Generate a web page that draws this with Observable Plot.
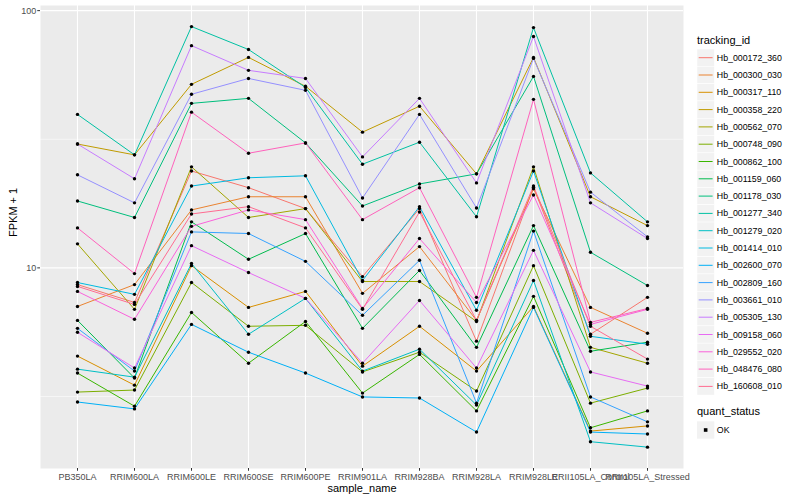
<!DOCTYPE html>
<html>
<head>
<meta charset="utf-8">
<script src="https://cdn.jsdelivr.net/npm/d3@7"></script>
<script src="https://cdn.jsdelivr.net/npm/@observablehq/plot@0.6"></script>
<style>
  html, body { margin: 0; padding: 0; background: #fff; }
  #chart { width: 800px; height: 500px; }
</style>
</head>
<body>
<div id="chart"></div>
<script>
const samples = ["PB350LA", "RRIM600LA", "RRIM600LE", "RRIM600SE", "RRIM600PE", "RRIM901LA",
  "RRIM928BA", "RRIM928LA", "RRIM928LE", "RRII105LA_Control", "RRII105LA_Stressed"];

const ids = ["Hb_000172_360", "Hb_000300_030", "Hb_000317_110", "Hb_000358_220", "Hb_000562_070",
  "Hb_000748_090", "Hb_000862_100", "Hb_001159_060", "Hb_001178_030", "Hb_001277_340",
  "Hb_001279_020", "Hb_001414_010", "Hb_002600_070", "Hb_002809_160", "Hb_003661_010",
  "Hb_005305_130", "Hb_009158_060", "Hb_029552_020", "Hb_048476_080", "Hb_160608_010"];

const colors = ["#F8766D", "#EA8331", "#D89000", "#C09B00", "#A3A500", "#7CAE00", "#39B600",
  "#00BB4E", "#00BF7D", "#00C1A3", "#00BFC4", "#00BAE0", "#00B0F6", "#35A2FF", "#9590FF",
  "#C77CFF", "#E76BF3", "#FA62DB", "#FF62BC", "#FF6C91"];

// FPKM + 1 values, one array per tracking_id, in sample order
const hb_000172_360 = [8.61, 7.34, 23.8, 20.5, 17.0, 9.25, 17.0, 5.19, 20.6, 5.52, 7.68];
const hb_000300_030 = [7.08, 8.61, 16.8, 18.9, 18.9, 7.96, 12.1, 6.25, 20.3, 7.02, 5.57];
const hb_000317_110 = [4.54, 3.50, 10.2, 7.02, 8.10, 4.15, 5.93, 3.97, 7.08, 2.32, 2.43];
const hb_000358_220 = [30.3, 27.5, 51.7, 65.8, 50.8, 33.7, 42.5, 23.2, 65.8, 18.9, 14.6];
const hb_000562_070 = [12.4, 6.90, 24.7, 15.7, 17.0, 8.85, 8.85, 6.19, 24.7, 4.91, 4.26];
const hb_000748_090 = [3.29, 3.35, 8.77, 5.93, 5.98, 3.94, 4.70, 3.32, 10.2, 2.98, 3.41];
const hb_000862_100 = [3.90, 2.90, 6.71, 4.26, 6.19, 3.26, 4.61, 2.78, 7.75, 2.39, 2.78];
const hb_001159_060 = [6.25, 3.73, 15.1, 10.8, 13.6, 5.82, 9.77, 4.91, 14.6, 4.74, 5.14];
const hb_001178_030 = [18.2, 15.7, 43.6, 45.6, 30.6, 17.4, 21.2, 23.2, 55.5, 11.5, 8.54];
const hb_001277_340 = [39.5, 27.5, 86.7, 70.6, 50.3, 25.3, 30.8, 15.8, 85.9, 23.4, 15.1];
const hb_001279_020 = [4.04, 3.76, 10.4, 5.52, 7.61, 3.97, 4.83, 2.93, 8.93, 2.11, 2.01];
const hb_001414_010 = [8.77, 7.89, 20.8, 22.4, 22.8, 8.93, 17.3, 6.84, 23.8, 5.42, 5.05];
const hb_002600_070 = [3.01, 2.83, 6.03, 4.70, 3.90, 3.15, 3.12, 2.30, 7.02, 2.30, 2.26];
const hb_002809_160 = [5.82, 3.97, 13.8, 13.6, 10.6, 6.54, 10.7, 2.98, 13.9, 3.15, 2.52];
const hb_003661_010 = [23.0, 17.9, 47.3, 54.5, 49.0, 18.7, 39.5, 17.1, 65.2, 19.7, 13.2];
const hb_005305_130 = [30.3, 22.2, 73.1, 58.6, 54.5, 27.0, 45.6, 21.4, 79.3, 17.9, 13.0];
const hb_009158_060 = [5.62, 4.08, 12.2, 9.59, 7.61, 4.26, 7.47, 4.08, 11.7, 3.94, 3.47];
const hb_029552_020 = [8.10, 6.31, 14.5, 16.8, 15.4, 6.95, 13.0, 7.34, 19.2, 6.03, 6.90];
const hb_048476_080 = [14.3, 9.50, 40.3, 27.9, 30.6, 15.4, 20.5, 7.68, 45.2, 6.14, 6.95];
const hb_160608_010 = [8.47, 7.21, 16.2, 17.3, 14.3, 6.90, 16.5, 6.25, 20.8, 5.93, 4.42];

const yMajor = [10, 100];
const yMinor = [Math.sqrt(10), Math.sqrt(1000)];
const statusLabels = ["OK"];

const seriesValues = [hb_000172_360, hb_000300_030, hb_000317_110, hb_000358_220, hb_000562_070,
  hb_000748_090, hb_000862_100, hb_001159_060, hb_001178_030, hb_001277_340, hb_001279_020,
  hb_001414_010, hb_002600_070, hb_002809_160, hb_003661_010, hb_005305_130, hb_009158_060,
  hb_029552_020, hb_048476_080, hb_160608_010];

const data = [];
ids.forEach((id, i) => seriesValues[i].forEach((v, j) => data.push({id, sample: samples[j], value: v, status: "OK"})));

const font = "'Liberation Sans', Arial, Helvetica, sans-serif";

const plot = Plot.plot({
  width: 800,
  height: 500,
  marginLeft: 40,
  marginRight: 117,
  marginTop: 5,
  marginBottom: 32,
  style: {fontFamily: font, background: "#ffffff", overflow: "visible"},
  x: {type: "point", domain: samples, padding: 0.6, axis: null},
  y: {type: "log", domain: [1.66, 104.7], axis: null},
  color: {domain: ids, range: colors},
  marks: [
    Plot.frame({fill: "#EBEBEB", stroke: "none"}),
    Plot.ruleY(yMinor, {stroke: "#ffffff", strokeWidth: 0.55}),
    Plot.ruleY(yMajor, {stroke: "#ffffff", strokeWidth: 1.1}),
    Plot.ruleX(samples, {x: d => d, stroke: "#ffffff", strokeWidth: 1.1}),
    Plot.line(data, {x: "sample", y: "value", z: "id", stroke: "id", strokeWidth: 1}),
    Plot.dot(data, {x: "sample", y: "value", fill: "#000000", stroke: "none", r: 1.7}),
    Plot.axisY(yMajor, {tickSize: 2.75, tickPadding: 1.5, stroke: "#333333", fill: "#4D4D4D",
      fontSize: 9, tickFormat: d => String(d), label: null}),
    Plot.axisX(samples, {tickSize: 2.75, tickPadding: 2, stroke: "#333333", fill: "#4D4D4D",
      fontSize: 9, label: null}),
    Plot.text(["FPKM + 1"], {frameAnchor: "left", dx: -27, rotate: -90, fontSize: 11,
      fill: "#000000", text: d => d}),
    Plot.text(["sample_name"], {frameAnchor: "bottom", dy: 20, fontSize: 11, fill: "#000000",
      lineAnchor: "middle", text: d => d})
  ]
});

document.getElementById("chart").appendChild(plot);

// Legends (ggplot-style, drawn at the right of the panel)
const svg = d3.select(plot);
const lg = svg.append("g").attr("font-family", font).attr("text-anchor", "start");
const keyX = 697, keyW = 17.3, y0 = 57.7, step = 17.3;
lg.append("text").attr("x", keyX).attr("y", 40.5).attr("dy", "0.35em")
  .attr("font-size", 11).attr("fill", "#000").text("tracking_id");
ids.forEach((id, i) => {
  const cy = y0 + i * step;
  lg.append("rect").attr("x", keyX).attr("y", cy - keyW / 2).attr("width", keyW).attr("height", keyW)
    .attr("fill", "#F2F2F2").attr("stroke", "#ffffff").attr("stroke-width", 0.5);
  lg.append("line").attr("x1", keyX + 1.7).attr("x2", keyX + keyW - 1.7).attr("y1", cy).attr("y2", cy)
    .attr("stroke", colors[i]).attr("stroke-width", 1);
  lg.append("text").attr("x", keyX + keyW + 2.5).attr("y", cy).attr("dy", "0.35em")
    .attr("font-size", 8.8).attr("fill", "#000").text(id);
});
lg.append("text").attr("x", keyX).attr("y", 411).attr("dy", "0.35em")
  .attr("font-size", 11).attr("fill", "#000").text("quant_status");
statusLabels.forEach((s, i) => {
  const cy = 430 + i * step;
  lg.append("rect").attr("x", keyX).attr("y", cy - keyW / 2).attr("width", keyW).attr("height", keyW)
    .attr("fill", "#F2F2F2");
  lg.append("rect").attr("x", keyX + keyW / 2 - 1.8).attr("y", cy - 1.8).attr("width", 3.6).attr("height", 3.6)
    .attr("fill", "#000");
  lg.append("text").attr("x", keyX + keyW + 2.5).attr("y", cy).attr("dy", "0.35em")
    .attr("font-size", 8.8).attr("fill", "#000").text(s);
});
</script>
</body>
</html>
